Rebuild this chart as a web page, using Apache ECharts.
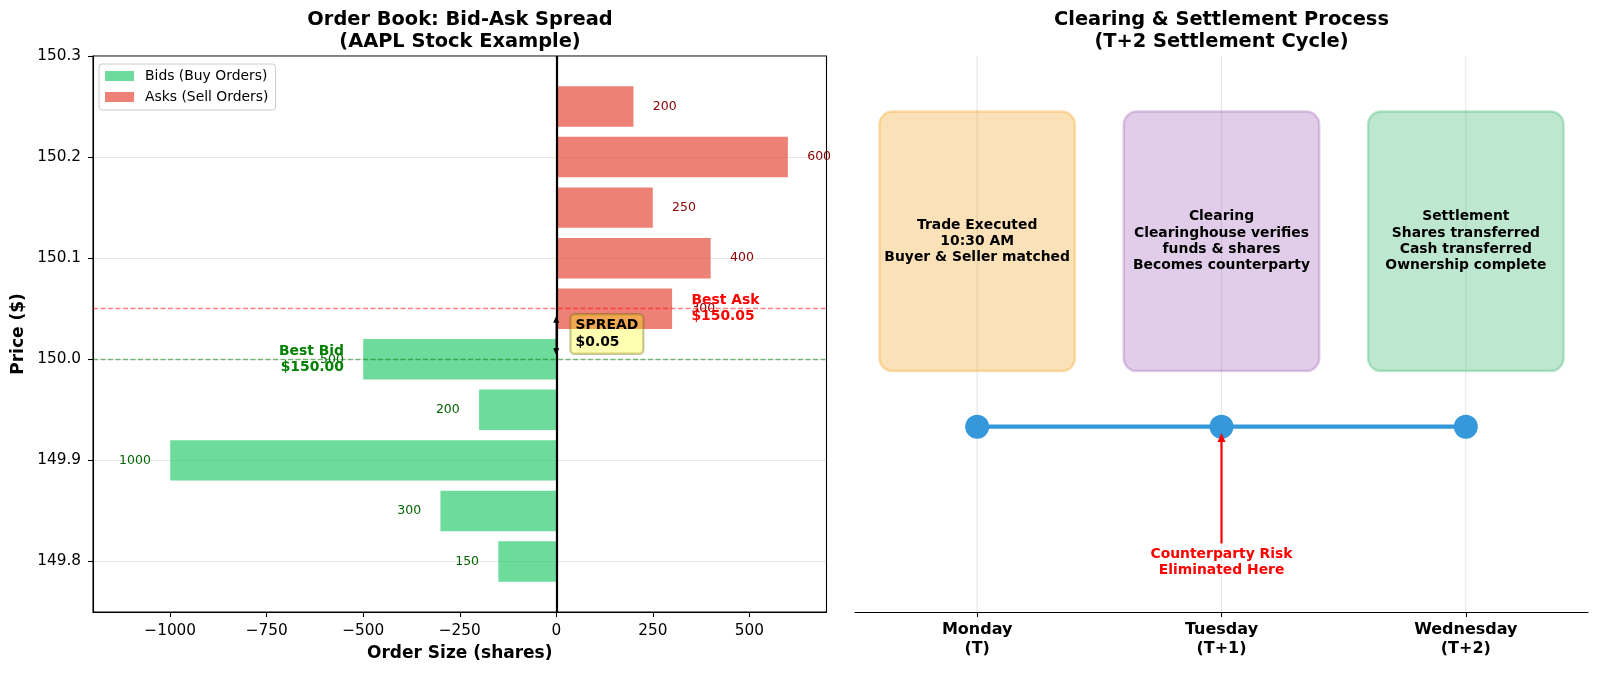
<!DOCTYPE html>
<html>
<head>
<meta charset="utf-8">
<script src="https://cdn.jsdelivr.net/npm/echarts@6/dist/echarts.min.js"></script>
<style>
html,body{margin:0;padding:0;background:#fff;}
#chart{width:1600px;height:675px;}
</style>
</head>
<body>
<div id="chart"></div>
<script>
// ---------- data ----------
const askPrices = [150.05, 150.10, 150.15, 150.20, 150.25];
const askSizes = [300, 400, 250, 600, 200];
const bidPrices = [150.00, 149.95, 149.90, 149.85, 149.80];
const bidSizes = [500, 200, 1000, 300, 150];
const bestBid = 150.00;
const bestAsk = 150.05;
const priceTicks = [149.8, 149.9, 150.0, 150.1, 150.2, 150.3];
const sizeTicks = [-1000, -750, -500, -250, 0, 250, 500];

const dayPositions = [0, 1, 2];
const dayLabels = ['Monday\n(T)', 'Tuesday\n(T+1)', 'Wednesday\n(T+2)'];
const stepTexts = [
  'Trade Executed\n10:30 AM\nBuyer & Seller matched',
  'Clearing\nClearinghouse verifies\nfunds & shares\nBecomes counterparty',
  'Settlement\nShares transferred\nCash transferred\nOwnership complete'
];
const timelineLevel = 1;
const boxCenterLevel = 2;
const riskDay = 1;
const riskText = 'Counterparty Risk\nEliminated Here';

// ---------- helpers ----------
const FF = '"DejaVu Sans", sans-serif';
const BAR_H = 0.04;
const LABEL_OFF = 50;

function fmtMinus(v) {
  return (v < 0 ? '\u2212' + Math.abs(v) : String(v));
}

function makeBarRender(side, labelColor, fill) {
  return function (params, api) {
    const x = api.value(0), p = api.value(1), s = api.value(2);
    const a = api.coord([0, p + BAR_H / 2]);
    const b = api.coord([x, p - BAR_H / 2]);
    const lp = api.coord([x + side * LABEL_OFF, p]);
    return {
      type: 'group',
      children: [
        { type: 'rect', shape: { x: Math.min(a[0], b[0]), y: a[1], width: Math.abs(b[0] - a[0]), height: b[1] - a[1] },
          style: { fill: fill } },
        { type: 'text', z2: 10, style: { text: String(s), x: lp[0], y: lp[1], align: side > 0 ? 'left' : 'right',
          verticalAlign: 'middle', font: '12.5px ' + FF, fill: labelColor } }
      ]
    };
  };
}

const bidData = bidSizes.map((s, i) => [-s, bidPrices[i], s]);
const askData = askSizes.map((s, i) => [s, askPrices[i], s]);

const chart = echarts.init(document.getElementById('chart'), null, { renderer: 'canvas' });

const option = {
  animation: false,
  backgroundColor: '#fff',
  title: [
    { text: 'Order Book: Bid-Ask Spread\n(AAPL Stock Example)', left: 460, top: 9, textAlign: 'center', padding: 0,
      textStyle: { fontFamily: FF, fontSize: 19.4, fontWeight: 'bold', lineHeight: 21.7, color: '#000' } },
    { text: 'Clearing & Settlement Process\n(T+2 Settlement Cycle)', left: 1221.5, top: 9, textAlign: 'center', padding: 0,
      textStyle: { fontFamily: FF, fontSize: 19.4, fontWeight: 'bold', lineHeight: 21.7, color: '#000' } }
  ],
  legend: {
    left: 99, top: 64, orient: 'vertical', selectedMode: false,
    itemWidth: 29, itemHeight: 10, itemGap: 7,
    padding: [5, 7, 6, 6],
    borderColor: '#cccccc', borderWidth: 1, borderRadius: 3,
    backgroundColor: 'rgba(255,255,255,0.8)',
    textStyle: { fontFamily: FF, fontSize: 13.9, color: '#000', lineHeight: 14, padding: [0, 0, 0, 6] },
    data: [{ name: 'Bids (Buy Orders)', icon: 'rect' }, { name: 'Asks (Sell Orders)', icon: 'rect' }]
  },
  grid: [
    { left: 93, right: 773.5, top: 56, bottom: 63, show: true, borderColor: '#000', borderWidth: 1.1, containLabel: false },
    { left: 855, right: 12, top: 56, bottom: 63, show: false, containLabel: false }
  ],
  xAxis: [
    {
      gridIndex: 0, type: 'value', min: -1200, max: 700,
      name: 'Order Size (shares)', nameLocation: 'middle', nameGap: 33,
      nameTextStyle: { fontFamily: FF, fontSize: 17, fontWeight: 'bold', color: '#000' },
      axisLine: { show: true, onZero: false, lineStyle: { color: '#000', width: 1.1 } },
      axisTick: { show: true, length: 5, lineStyle: { color: '#000', width: 1.1 }, customValues: sizeTicks },
      axisLabel: { customValues: sizeTicks, formatter: fmtMinus, margin: 11, fontFamily: FF, fontSize: 15.3, color: '#000', lineHeight: 16 },
      splitLine: { show: false }
    },
    {
      gridIndex: 1, type: 'value', min: -0.5, max: 2.5,
      axisLine: { show: true, onZero: false, lineStyle: { color: '#000', width: 1.1 } },
      axisTick: { show: true, length: 5, lineStyle: { color: '#000', width: 1.1 }, customValues: dayPositions },
      axisLabel: { customValues: dayPositions, formatter: v => dayLabels[Math.round(v)] || '', margin: 9,
        fontFamily: FF, fontSize: 16, fontWeight: 'bold', color: '#000', lineHeight: 18.5 },
      splitLine: { show: false }
    }
  ],
  yAxis: [
    {
      gridIndex: 0, type: 'value', min: 149.75, max: 150.3,
      name: 'Price ($)', nameLocation: 'middle', nameGap: 66,
      nameTextStyle: { fontFamily: FF, fontSize: 17, fontWeight: 'bold', color: '#000' },
      axisLine: { show: true, onZero: false, lineStyle: { color: '#000', width: 1.1 } },
      axisTick: { show: true, length: 5, lineStyle: { color: '#000', width: 1.1 }, customValues: priceTicks },
      axisLabel: { customValues: priceTicks, showMinLabel: true, showMaxLabel: true, formatter: v => v.toFixed(1), margin: 12,
        fontFamily: FF, fontSize: 15.3, color: '#000' },
      splitLine: { show: true, lineStyle: { color: 'rgba(176,176,176,0.3)', width: 1.1 } }
    },
    { gridIndex: 1, type: 'value', min: 0, max: 3, show: false, splitLine: { show: false } }
  ],
  series: [
    {
      type: 'custom', name: 'Bids (Buy Orders)', xAxisIndex: 0, yAxisIndex: 0, z: 2,
      itemStyle: { color: 'rgba(46,204,113,0.7)' },
      renderItem: makeBarRender(-1, '#006400', 'rgba(46,204,113,0.7)'),
      data: bidData
    },
    {
      type: 'custom', name: 'Asks (Sell Orders)', xAxisIndex: 0, yAxisIndex: 0, z: 2,
      itemStyle: { color: 'rgba(231,76,60,0.7)' },
      renderItem: makeBarRender(1, '#8b0000', 'rgba(231,76,60,0.7)'),
      data: askData
    },
    {
      type: 'line', name: 'refLines', xAxisIndex: 0, yAxisIndex: 0, z: 5, data: [],
      markLine: {
        silent: true, symbol: 'none', animation: false,
        label: { show: false },
        data: [
          { xAxis: 0, lineStyle: { color: '#000', width: 2.2, type: 'solid' } },
          { yAxis: bestAsk, lineStyle: { color: 'rgba(255,0,0,0.5)', width: 1.3, type: [5, 2.5] } },
          { yAxis: bestBid, lineStyle: { color: 'rgba(0,128,0,0.5)', width: 1.3, type: [5, 2.5] } }
        ]
      }
    },
    {
      // spread arrow + box, best bid / best ask labels
      type: 'custom', name: 'annot', xAxisIndex: 0, yAxisIndex: 0, z: 6,
      data: [[0, bestBid, bestAsk]],
      renderItem: function (params, api) {
        const t = api.coord([0, api.value(2)]);
        const b = api.coord([0, api.value(1)]);
        const x = t[0];
        const y1 = t[1] + 7, y2 = b[1] - 4;
        const hl = 7, hw = 3;
        const bx = api.coord([LABEL_OFF, (api.value(1) + api.value(2)) / 2]);
        const bidPos = api.coord([-(bidSizes[0] + LABEL_OFF), bestBid]);
        const askPos = api.coord([askSizes[0] + LABEL_OFF, bestAsk]);
        return {
          type: 'group',
          children: [
            { type: 'line', shape: { x1: x, y1: y1 + hl - 1, x2: x, y2: y2 - hl + 1 }, style: { stroke: '#000', lineWidth: 1.4 } },
            { type: 'polygon', shape: { points: [[x, y1], [x - hw, y1 + hl], [x + hw, y1 + hl]] }, style: { fill: '#000' } },
            { type: 'polygon', shape: { points: [[x, y2], [x - hw, y2 - hl], [x + hw, y2 - hl]] }, style: { fill: '#000' } },
            { type: 'text', style: { text: 'SPREAD\n$0.05', x: bx[0] - 5, y: bx[1], align: 'left', verticalAlign: 'middle',
                font: 'bold 13.9px ' + FF, lineHeight: 16.7, fill: '#000',
                backgroundColor: 'rgba(255,255,0,0.3)', borderColor: 'rgba(90,80,0,0.35)', borderWidth: 1.2,
                borderRadius: 4, padding: [3, 5, 3, 5] } },
            { type: 'text', style: { text: 'Best Bid\n$150.00', x: bidPos[0], y: bidPos[1], align: 'right', verticalAlign: 'middle',
                font: 'bold 13.9px ' + FF, lineHeight: 16, fill: '#008000' } },
            { type: 'text', style: { text: 'Best Ask\n$150.05', x: askPos[0], y: askPos[1], align: 'left', verticalAlign: 'middle',
                font: 'bold 13.9px ' + FF, lineHeight: 16, fill: '#ff0000' } }
          ]
        };
      }
    },
    {
      // right vertical grid lines
      type: 'custom', name: 'dayGrid', xAxisIndex: 1, yAxisIndex: 1, z: 1,
      data: dayPositions.map(d => [d, 0]),
      renderItem: function (params, api) {
        const a = api.coord([api.value(0), 0]);
        const b = api.coord([api.value(0), 3]);
        return { type: 'line', shape: { x1: a[0], y1: a[1], x2: b[0], y2: b[1] }, style: { stroke: 'rgba(176,176,176,0.3)', lineWidth: 1.1 } };
      }
    },
    {
      // process boxes
      type: 'custom', name: 'steps', xAxisIndex: 1, yAxisIndex: 1, z: 2,
      data: dayPositions.map(d => [d, boxCenterLevel]),
      renderItem: function (params, api) {
        const cols = [[243, 156, 18], [155, 89, 182], [39, 174, 96]];
        const c = cols[params.dataIndex];
        const xv = api.value(0), yv = api.value(1);
        const p0 = api.coord([xv - 0.4, yv + 0.7]);
        const p1 = api.coord([xv + 0.4, yv - 0.7]);
        const pc = api.coord([xv, yv]);
        return {
          type: 'group',
          children: [
            { type: 'rect', shape: { x: p0[0], y: p0[1], width: p1[0] - p0[0], height: p1[1] - p0[1], r: 13 },
              style: { fill: 'rgba(' + c.join(',') + ',0.3)', stroke: 'rgba(' + c.join(',') + ',0.3)', lineWidth: 2.5 } },
            { type: 'text', style: { text: stepTexts[params.dataIndex], x: pc[0], y: pc[1], align: 'center', verticalAlign: 'middle',
                font: 'bold 13.9px ' + FF, lineHeight: 16.3, fill: '#000' } }
          ]
        };
      }
    },
    {
      type: 'line', name: 'timeline', xAxisIndex: 1, yAxisIndex: 1, z: 3,
      data: dayPositions.map(d => [d, timelineLevel]),
      symbol: 'circle', symbolSize: 24, showSymbol: true,
      lineStyle: { color: '#3498db', width: 4.3 },
      itemStyle: { color: '#3498db' }
    },
    {
      type: 'custom', name: 'risk', xAxisIndex: 1, yAxisIndex: 1, z: 4,
      data: [[riskDay, 0.267]],
      renderItem: function (params, api) {
        const tp = api.coord([api.value(0), api.value(1)]);
        const tail = api.coord([api.value(0), 0.37]);
        const tip = api.coord([api.value(0), timelineLevel - 0.034]);
        const hl = 9, hw = 4;
        return {
          type: 'group',
          children: [
            { type: 'line', shape: { x1: tail[0], y1: tail[1], x2: tip[0], y2: tip[1] + hl - 1 }, style: { stroke: '#ff0000', lineWidth: 2.2 } },
            { type: 'polygon', shape: { points: [[tip[0], tip[1]], [tip[0] - hw, tip[1] + hl], [tip[0] + hw, tip[1] + hl]] }, style: { fill: '#ff0000' } },
            { type: 'text', style: { text: riskText, x: tp[0], y: tp[1], align: 'center', verticalAlign: 'middle',
                font: 'bold 13.9px ' + FF, lineHeight: 16.5, fill: '#ff0000' } }
          ]
        };
      }
    }
  ]
};
chart.setOption(option);
</script>
</body>
</html>
